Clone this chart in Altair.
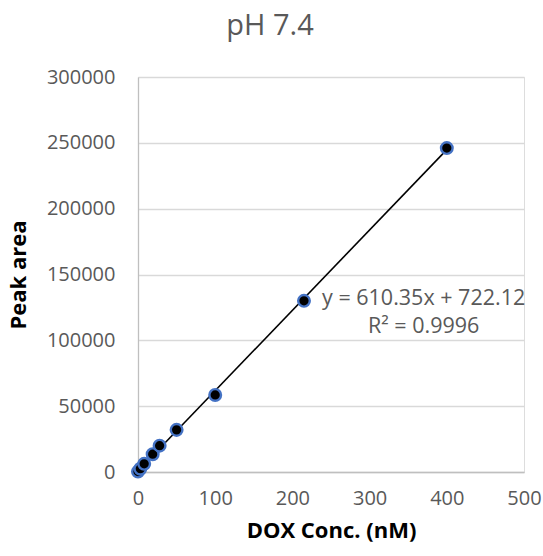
import altair as alt
import pandas as pd

# DOX calibration standards at pH 7.4
conc_nm = [0, 3, 8, 19, 28, 50, 100, 215, 400]
peak_area = [300, 2500, 6200, 13500, 20000, 32000, 58500, 130000, 246000]

# linear least-squares trend line
slope = 610.35
intercept = 722.12
r_squared = 0.9996
fit_range = [0, 400]

points = pd.DataFrame({"conc": conc_nm, "area": peak_area})
fit = pd.DataFrame({"conc": fit_range})

font = "Open Sans"
gray = "#595959"

x_scale = alt.Scale(domain=[0, 500], nice=False)
y_scale = alt.Scale(domain=[0, 300000], nice=False)

x_axis = alt.Axis(
    values=[0, 100, 200, 300, 400, 500], format="d", grid=False,
    ticks=False, domainColor="#bfbfbf", domainWidth=1.3, labelFlush=False,
    labelFont=font, labelFontSize=20, labelColor=gray, labelPadding=16,
    title="DOX Conc. (nM)", titleFont=font, titleFontSize=22,
    titleFontWeight="bold", titleColor="#000000", titlePadding=12,
)
y_axis = alt.Axis(
    values=[0, 50000, 100000, 150000, 200000, 250000, 300000], format="d",
    grid=True, gridColor="#d9d9d9", gridWidth=1.3, ticks=False,
    domainColor="#bfbfbf", domainWidth=1.3,
    labelFont=font, labelFontSize=20, labelColor=gray, labelPadding=23,
    title="Peak area", titleFont=font, titleFontSize=22,
    titleFontWeight="bold", titleColor="#000000", titlePadding=16,
)

dots = alt.Chart(points).mark_circle(
    size=135, color="#000000", stroke="#4472c4", strokeWidth=2.4, opacity=1
).encode(
    x=alt.X("conc:Q", scale=x_scale, axis=x_axis),
    y=alt.Y("area:Q", scale=y_scale, axis=y_axis),
)

trend = alt.Chart(fit).transform_calculate(
    area=f"{slope} * datum.conc + {intercept}"
).mark_line(color="#000000", strokeWidth=1.6).encode(
    x=alt.X("conc:Q", scale=x_scale),
    y=alt.Y("area:Q", scale=y_scale),
)

eq_text = pd.DataFrame({
    "conc": [370, 370],
    "area": [131400, 110100],
    "label": [f"y = {slope}x + {intercept}", f"R² = {r_squared}"],
})

labels = alt.Chart(eq_text).mark_text(
    align="center", baseline="middle", font=font, fontSize=21.5, color=gray
).encode(
    x=alt.X("conc:Q", scale=x_scale),
    y=alt.Y("area:Q", scale=y_scale),
    text="label:N",
)

chart = alt.layer(trend, dots, labels).properties(
    width=386,
    height=395,
    padding={"left": 138, "top": 77, "right": 19, "bottom": 84},
    autosize=alt.AutoSizeParams(type="none"),
    title=alt.Title("pH 7.4", font=font, fontSize=29, color=gray,
                    fontWeight="normal", anchor="middle", offset=26, dx=-61),
).configure_view(stroke=None).configure(background="#ffffff")

chart.save("out.html", embed_options={"renderer": "svg", "actions": False})
